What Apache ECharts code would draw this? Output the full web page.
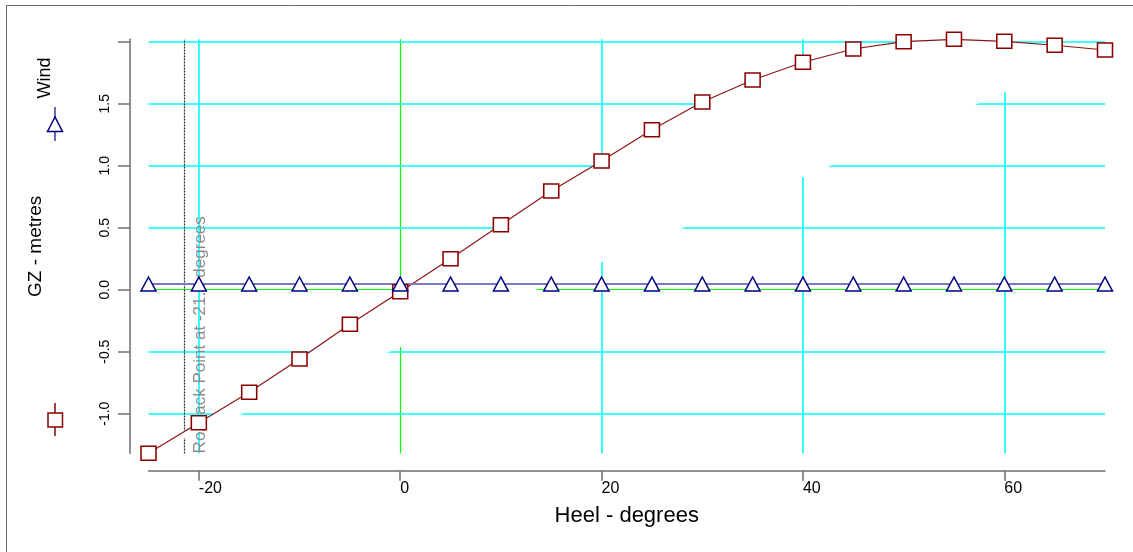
<!DOCTYPE html>
<html>
<head>
<meta charset="utf-8">
<script src="https://cdn.jsdelivr.net/npm/echarts@6/dist/echarts.min.js"></script>
<style>
  html, body { margin: 0; padding: 0; background: #fff; }
  #chart { width: 1133px; height: 552px; }
</style>
</head>
<body>
<div id="chart"></div>
<script>
// Heel angles (degrees) and righting lever GZ (metres)
const heel = [-25, -20, -15, -10, -5, 0, 5, 10, 15, 20, 25, 30, 35, 40, 45, 50, 55, 60, 65, 70];
const gz = [-1.319, -1.073, -0.827, -0.559, -0.279, -0.016, 0.25, 0.524, 0.796, 1.038,
            1.29, 1.514, 1.691, 1.834, 1.941, 2.0, 2.019, 2.003, 1.971, 1.933];
// Wind heeling lever (metres)
const wind = [0.046, 0.046, 0.046, 0.046, 0.046, 0.046, 0.046, 0.046, 0.046, 0.046,
              0.046, 0.046, 0.046, 0.046, 0.046, 0.046, 0.046, 0.046, 0.046, 0.046];
// Axis ticks
const xTicks = [-20, 0, 20, 40, 60];
const yTicks = [-1.0, -0.5, 0.0, 0.5, 1.0, 1.5, 2.0];
const yTickLabels = [-1.0, -0.5, 0.0, 0.5, 1.0, 1.5];
// Roll back point
const rollbackHeel = -21.4;

const FONT = 'Liberation Sans, Arial, sans-serif';
const AXIS_GREY = '#6e6e6e';

const gridLines = [];
xTicks.forEach(function (x) {
  gridLines.push({
    xAxis: x,
    lineStyle: { color: x === 0 ? '#00ff00' : '#00ffff', width: x === 0 ? 1.2 : 1.6, type: 'solid' },
    label: { show: false }
  });
});
yTicks.forEach(function (y) {
  gridLines.push({
    yAxis: y,
    lineStyle: { color: y === 0 ? '#00ff00' : '#00ffff', width: y === 0 ? 1.2 : 1.6, type: 'solid' },
    label: { show: false }
  });
});
gridLines.push({
  xAxis: rollbackHeel,
  lineStyle: { color: '#303030', width: 1.2, type: [2, 1] },
  label: {
    show: true,
    position: 'insideStartBottom',
    distance: [0, 7],
    formatter: 'Rollback Point at ' + rollbackHeel + ' degrees',
    color: '#8c8c8c',
    fontSize: 17,
    fontFamily: FONT
  }
});

const chart = echarts.init(document.getElementById('chart'), null, { renderer: 'canvas' });

chart.setOption({
  animation: false,
  backgroundColor: '#fff',
  grid: { left: 148.5, right: 28, top: 39.2, bottom: 98.6 },
  xAxis: {
    type: 'value',
    min: -25,
    max: 70,
    offset: 17.3,
    name: 'Heel - degrees',
    nameLocation: 'middle',
    nameGap: 34,
    nameTextStyle: { fontSize: 22, color: '#000', fontFamily: FONT },
    axisLine: { show: true, onZero: false, lineStyle: { color: AXIS_GREY, width: 1.5 } },
    axisTick: { show: true, length: 10, customValues: xTicks, lineStyle: { color: AXIS_GREY, width: 1.5 } },
    axisLabel: { customValues: xTicks, align: 'left', margin: 10, fontSize: 16, color: '#000', fontFamily: FONT },
    splitLine: { show: false }
  },
  yAxis: {
    type: 'value',
    min: -1.32,
    max: 2.02,
    offset: 18.5,
    name: 'GZ - metres',
    nameLocation: 'middle',
    nameGap: 85,
    nameTextStyle: { fontSize: 19, color: '#000', fontFamily: FONT },
    axisLine: { show: true, onZero: false, lineStyle: { color: AXIS_GREY, width: 1.5 } },
    axisTick: { show: true, length: 12, customValues: yTicks, lineStyle: { color: AXIS_GREY, width: 1.5 } },
    axisLabel: {
      customValues: yTickLabels,
      rotate: 90,
      margin: 18,
      fontSize: 14,
      color: '#000',
      fontFamily: FONT,
      formatter: function (v) { return v.toFixed(1); }
    },
    splitLine: { show: false }
  },
  graphic: [
    { type: 'rect', shape: { x: 6.5, y: 5.5, width: 1200, height: 600 },
      style: { fill: 'none', stroke: '#666', lineWidth: 1 }, silent: true },
    // legend: Wind
    { type: 'text', x: 54, y: 78, rotation: Math.PI / 2,
      style: { text: 'Wind', fontSize: 18, fontFamily: FONT, fill: '#000', align: 'center', verticalAlign: 'bottom' } },
    { type: 'line', shape: { x1: 55, y1: 107, x2: 55, y2: 141 }, style: { stroke: '#6a6ab5', lineWidth: 2 } },
    { type: 'polygon', shape: { points: [[55, 117], [47.5, 131.5], [62.5, 131.5]] },
      style: { fill: '#fff', stroke: '#000080', lineWidth: 1.5 } },
    // legend: GZ
    { type: 'line', shape: { x1: 55, y1: 403, x2: 55, y2: 436 }, style: { stroke: '#a04444', lineWidth: 2 } },
    { type: 'rect', shape: { x: 48, y: 413, width: 14.5, height: 14 },
      style: { fill: '#fff', stroke: '#8b0000', lineWidth: 1.5 } }
  ],
  series: [
    {
      // closed GZ outline, filled white (hides grid between curve and its chord)
      type: 'custom',
      z: 2,
      silent: true,
      data: [[heel[0], gz[0]]],
      renderItem: function (params, api) {
        const pts = heel.map(function (h, i) { return api.coord([h, gz[i]]); });
        return { type: 'polygon', shape: { points: pts }, style: { fill: '#fff', stroke: null } };
      }
    },
    {
      name: 'GZ',
      type: 'line',
      z: 3,
      clip: false,
      data: heel.map(function (h, i) { return [h, gz[i]]; }),
      symbol: 'rect',
      symbolSize: [15, 14],
      showAllSymbol: true,
      lineStyle: { color: '#8b1515', width: 1.2 },
      itemStyle: { color: '#fff', borderColor: '#8b0000', borderWidth: 1.5 },
      emphasis: { disabled: true }
    },
    {
      name: 'Wind',
      type: 'line',
      z: 3,
      clip: false,
      data: heel.map(function (h, i) { return [h, wind[i]]; }),
      symbol: 'triangle',
      symbolSize: [15, 14],
      showAllSymbol: true,
      lineStyle: { color: '#7a7ac0', width: 2 },
      itemStyle: { color: '#fff', borderColor: '#000080', borderWidth: 1.5 },
      emphasis: { disabled: true },
      markLine: {
        z: 1,
        silent: true,
        symbol: ['none', 'none'],
        animation: false,
        data: gridLines
      }
    }
  ]
});
</script>
</body>
</html>
